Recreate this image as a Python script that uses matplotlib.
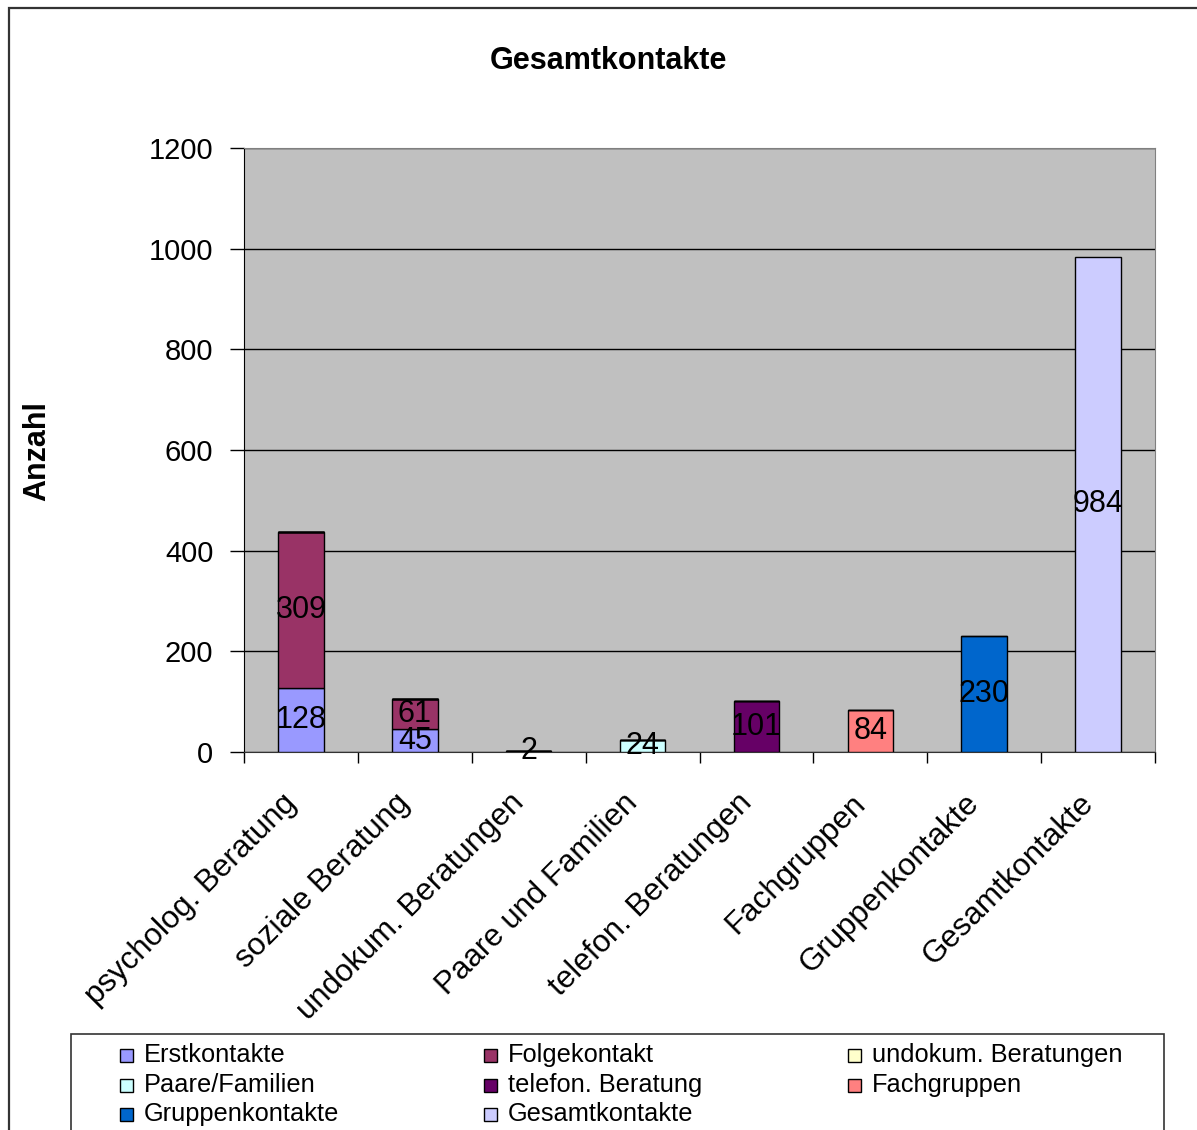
import numpy as np
import matplotlib
matplotlib.use("Agg")
import matplotlib.pyplot as plt
from matplotlib.patches import Rectangle
from matplotlib.transforms import ScaledTranslation

plt.rcParams["font.family"] = ["Liberation Sans", "DejaVu Sans"]

# categories on the x axis
categories = [
    "psycholog. Beratung", "soziale Beratung", "undokum. Beratungen",
    "Paare und Familien", "telefon. Beratungen", "Fachgruppen",
    "Gruppenkontakte", "Gesamtkontakte",
]

# one series per contact type (stacked, zero where not used)
series_names = [
    "Erstkontakte", "Folgekontakt", "undokum. Beratungen", "Paare/Familien",
    "telefon. Beratung", "Fachgruppen", "Gruppenkontakte", "Gesamtkontakte",
]
erstkontakte   = [128, 45, 0, 0, 0, 0, 0, 0]
folgekontakt   = [309, 61, 0, 0, 0, 0, 0, 0]
undokum        = [0, 0, 2, 0, 0, 0, 0, 0]
paare_familien = [0, 0, 0, 24, 0, 0, 0, 0]
telefon        = [0, 0, 0, 0, 101, 0, 0, 0]
fachgruppen    = [0, 0, 0, 0, 0, 84, 0, 0]
gruppen        = [0, 0, 0, 0, 0, 0, 230, 0]
gesamt         = [0, 0, 0, 0, 0, 0, 0, 984]
series_values = [erstkontakte, folgekontakt, undokum, paare_familien,
                 telefon, fachgruppen, gruppen, gesamt]

colors = ["#9999FF", "#993366", "#FFFFCC", "#CCFFFF",
          "#660066", "#FF8080", "#0066CC", "#CCCCFF"]

y_ticks = [0, 200, 400, 600, 800, 1000, 1200]

W, H = 1197, 1130
fig = plt.figure(figsize=(W / 100, H / 100), dpi=100, facecolor="white")

# outer chart frame
fig.add_artist(Rectangle((8.5 / W, -0.05), 1.2, 1 - 7.5 / H + 0.05,
                         transform=fig.transFigure, fill=False,
                         edgecolor="#333333", linewidth=1.6))

ax = fig.add_axes([244 / W, 1 - 752 / H, (1155 - 244) / W, (752 - 148) / H])
ax.set_facecolor("#C0C0C0")

x = np.arange(len(categories))
bottom = np.zeros(len(categories))
for name, vals, col in zip(series_names, series_values, colors):
    vals = np.array(vals, dtype=float)
    bars = ax.bar(x, vals, width=0.4, bottom=bottom, color=col,
                  edgecolor="black", linewidth=1.0, label=name, zorder=3)
    ax.bar_label(bars, labels=[str(int(v)) if v else "" for v in vals],
                 label_type="center", fontsize=22, color="black", zorder=4)
    bottom += vals

ax.set_xlim(-0.5, len(categories) - 0.5)
ax.set_ylim(0, 1200)
ax.set_yticks(y_ticks)
ax.tick_params(axis="y", labelsize=21, length=10, width=1, pad=12, colors="black")

# boundary ticks below the axis, labels centred on the categories
ax.set_xticks(np.arange(len(categories) + 1) - 0.5)
ax.set_xticklabels([])
ax.tick_params(axis="x", which="major", length=8, width=1, direction="out")
ax.set_xticks(x, minor=True)
ax.set_xticklabels(categories, minor=True, rotation=45, ha="right",
                   va="top", rotation_mode="anchor", fontsize=22.5)
ax.tick_params(axis="x", which="minor", length=0, pad=26)
shift = ScaledTranslation(-20 / 100, 0, fig.dpi_scale_trans)
for lbl in ax.get_xticklabels(minor=True):
    lbl.set_transform(lbl.get_transform() + shift)

ax.grid(axis="y", color="black", linewidth=1.0)
ax.set_axisbelow(True)
ax.spines["left"].set_color("black")
ax.spines["bottom"].set_color("#333333")
ax.spines["top"].set_color("#808080")
ax.spines["right"].set_color("#808080")

ax.set_ylabel("Anzahl", fontsize=22, fontweight="bold")
ax.yaxis.set_label_coords((52 - 244) / (1155 - 244), 0.498)

fig.text(608 / W, 1 - 61 / H, "Gesamtkontakte", fontsize=22,
         fontweight="bold", ha="center", va="center")

# legend box with three columns, filled row by row
fig.add_artist(Rectangle((70.5 / W, -0.05), (1163 - 70) / W, 1 - 1034 / H + 0.05,
                         transform=fig.transFigure, fill=False,
                         edgecolor="#333333", linewidth=1.2))
col_x = [120, 484, 848]
row_y = [1055, 1085, 1114]
sq = 13
for i, (name, col) in enumerate(zip(series_names, colors)):
    cx = col_x[i % 3]
    cy = row_y[i // 3]
    fig.add_artist(Rectangle((cx / W, 1 - (cy + sq / 2) / H), sq / W, sq / H,
                             transform=fig.transFigure, facecolor=col,
                             edgecolor="black", linewidth=1.0))
    fig.text((cx + sq + 11) / W, 1 - cy / H, name, fontsize=18.3,
             ha="left", va="center")

fig.savefig("out.png", dpi=100, facecolor="white")
